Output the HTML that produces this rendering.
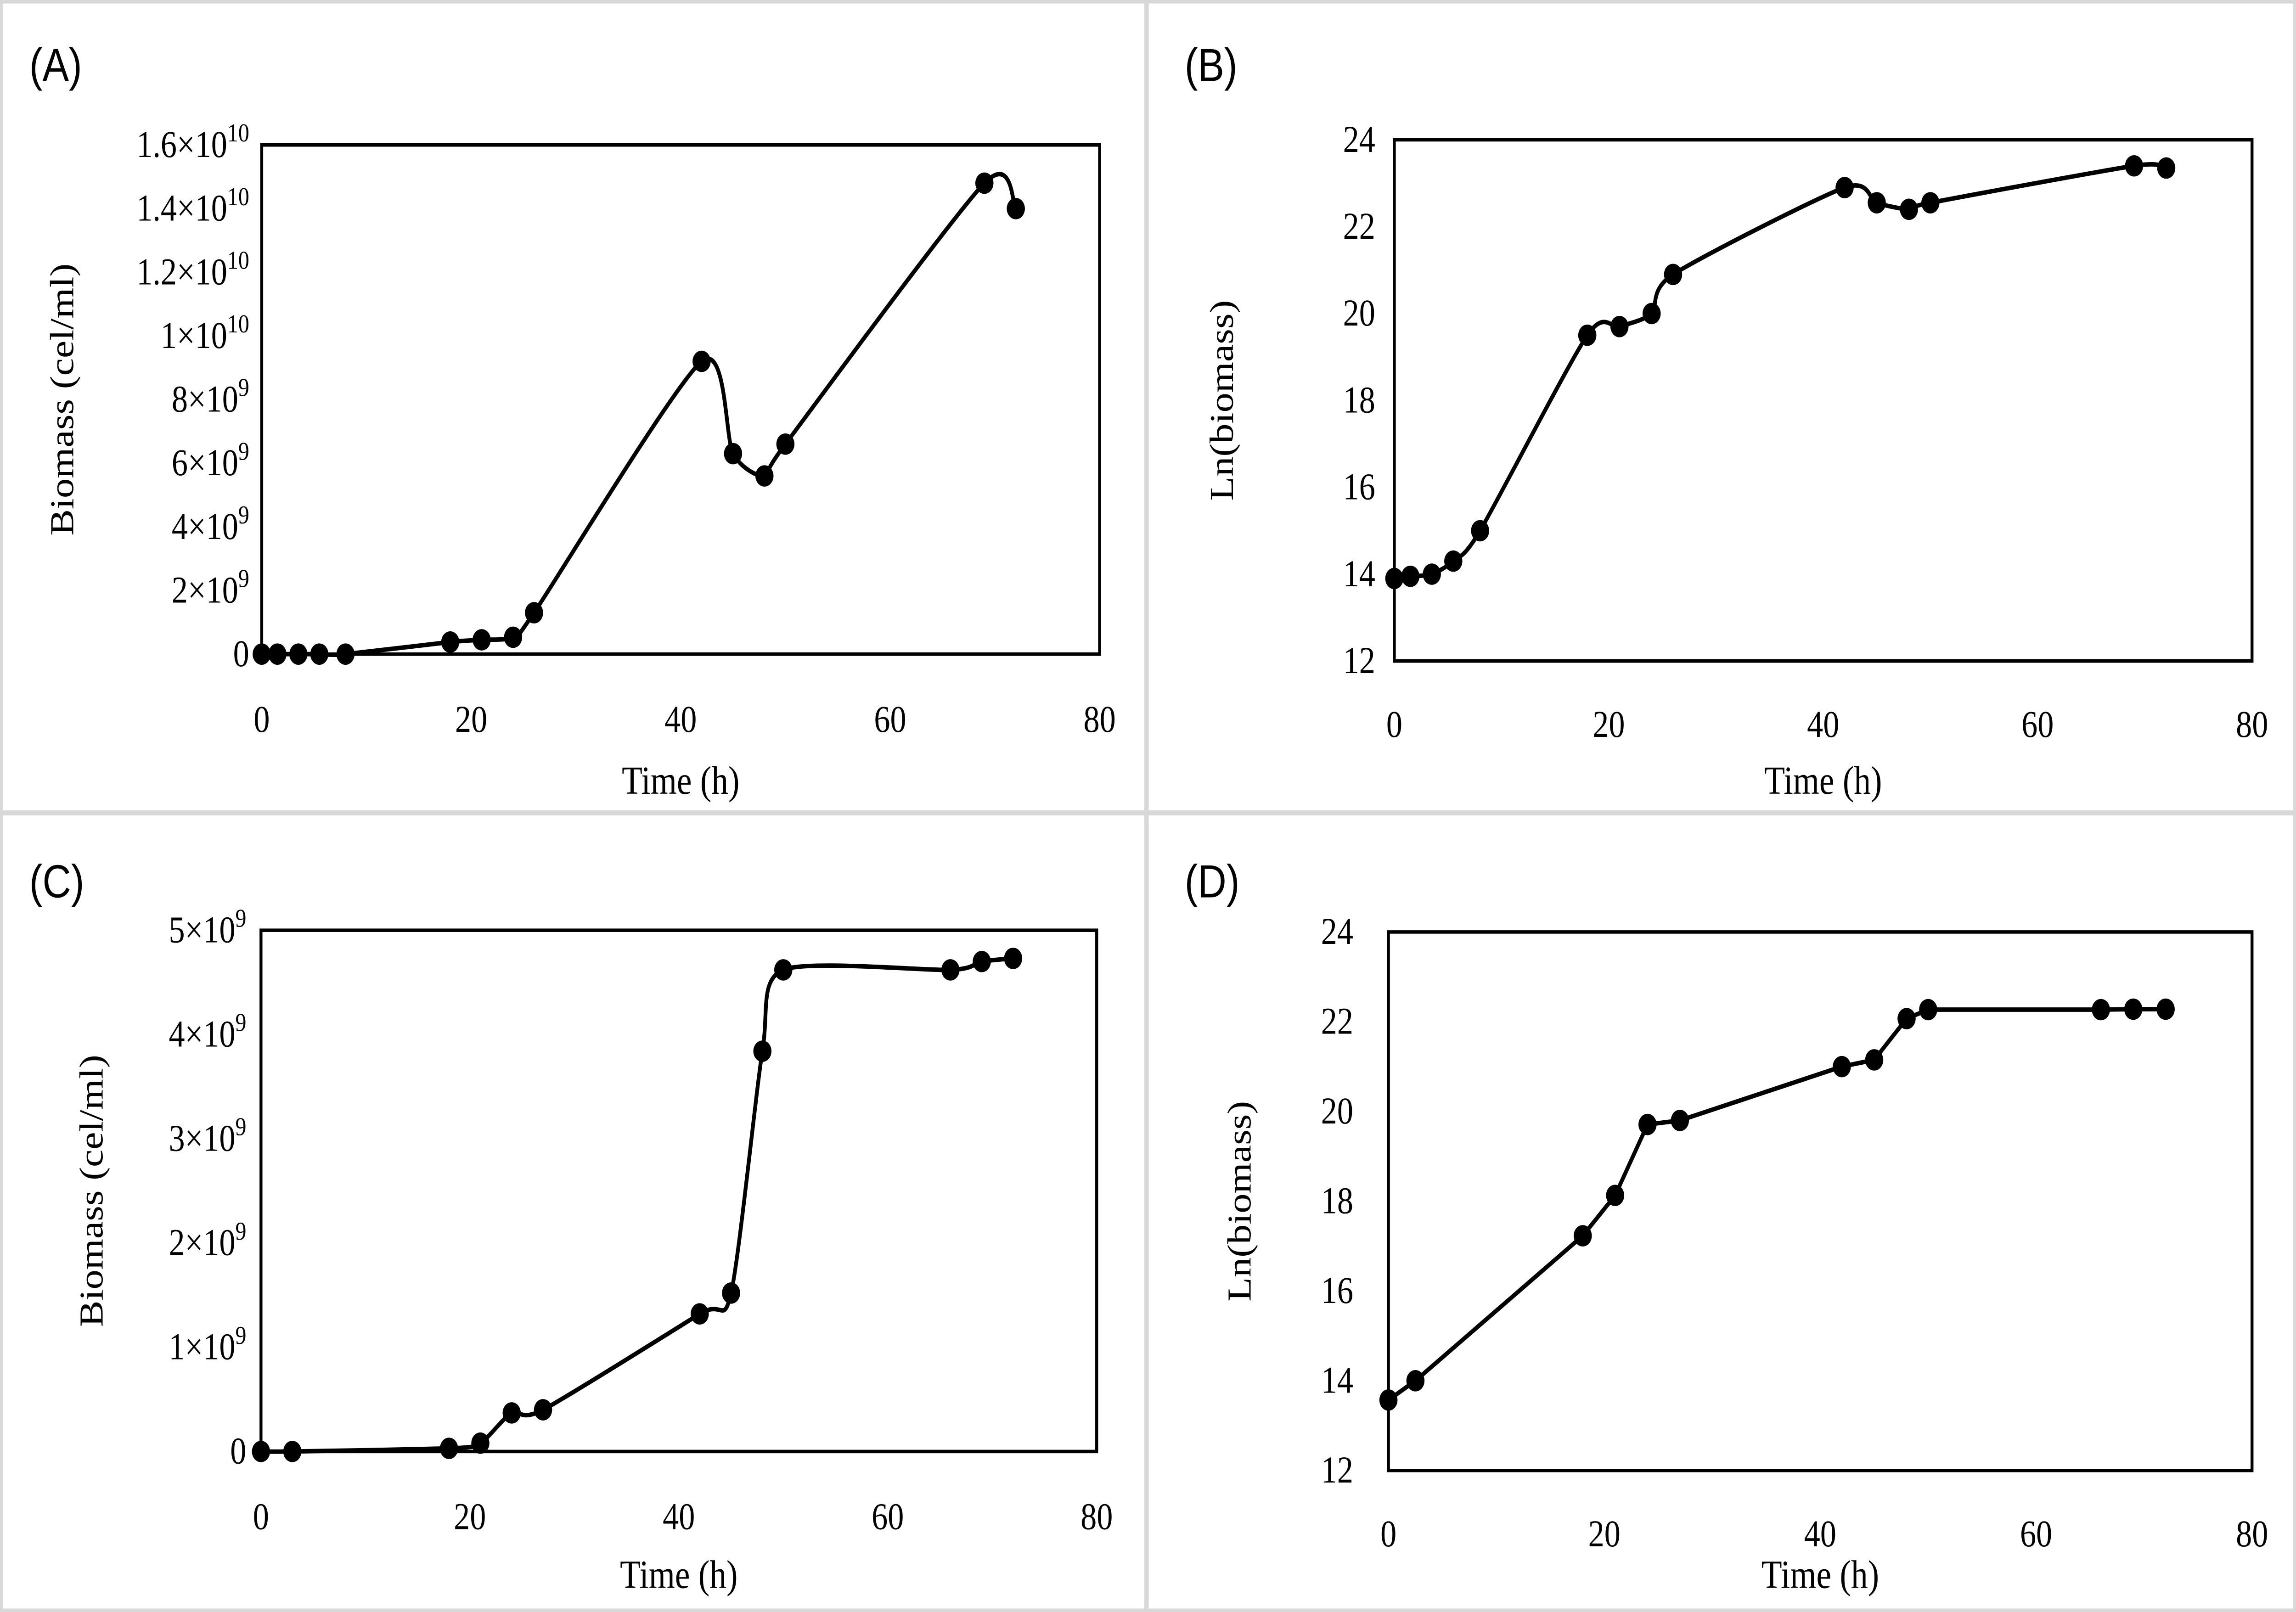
<!DOCTYPE html>
<html><head><meta charset="utf-8"><style>
html,body{margin:0;padding:0;background:#fff;width:100vw;height:100vh;overflow:hidden;}
svg{display:block;width:100vw;height:100vh;}
.tk{font-family:"Liberation Serif",serif;font-size:22px;fill:#000;}
.ti{font-family:"Liberation Serif",serif;font-size:23px;fill:#000;}
.pl{font-family:"Liberation Sans",sans-serif;font-size:27px;fill:#000;}
</style></head><body>
<svg id="fig" viewBox="0 0 1566 934" preserveAspectRatio="none" xmlns="http://www.w3.org/2000/svg">
<g id="root">
<rect x="1" y="1" width="1564" height="932" fill="#fff" stroke="#d8d8d8" stroke-width="2"/>
<line x1="782" y1="0" x2="782" y2="934" stroke="#d8d8d8" stroke-width="3"/>
<line x1="0" y1="471" x2="1566" y2="471" stroke="#d8d8d8" stroke-width="3"/>
</g>
</svg>
<script>
const xTicks=[0,20,40,60,80];
const tA=[0,1.5,3.5,5.5,8,18,21,24,26,42,45,48,50,69,72];
const vA=[0,0,0,0,0,0.38,0.45,0.53,1.3,9.2,6.3,5.6,6.6,14.8,14.0];
const yTicksA=[0,2,4,6,8,10,12,14,16];
const tB=[0,1.5,3.5,5.5,8,18,21,24,26,42,45,48,50,69,72];
const vB=[13.9,13.95,14.0,14.3,15.0,19.5,19.7,20.0,20.9,22.9,22.55,22.4,22.55,23.4,23.35];
const yTicksB=[12,14,16,18,20,22,24];
const tC=[0,3,18,21,24,27,42,45,48,50,66,69,72];
const vC=[0,0,0.03,0.08,0.37,0.4,1.32,1.52,3.84,4.62,4.62,4.7,4.73];
const yTicksC=[0,1,2,3,4,5];
const tD=[0,2.5,18,21,24,27,42,45,48,50,66,69,72];
const vD=[13.57,14.0,17.23,18.13,19.71,19.8,21.0,21.15,22.07,22.27,22.27,22.28,22.28];
const yTicksD=[12,14,16,18,20,22,24];

const NS="http://www.w3.org/2000/svg";
const root=document.getElementById('root');
function mk(tag,attrs,parent){const e=document.createElementNS(NS,tag);for(const k in attrs)e.setAttribute(k,attrs[k]);(parent||root).appendChild(e);return e;}

function panel(cfg){
  const g=mk('g',{});
  
  
  const sx=v=>cfg.x0+(v-0)/(80)*(cfg.x1-cfg.x0);
  const sy=v=>cfg.y1-(v-cfg.ymin)/(cfg.ymax-cfg.ymin)*(cfg.y1-cfg.y0);
  const lab=mk('text',{x:cfg.lx,y:cfg.ly,class:'pl'},g);lab.textContent='('+cfg.id.toUpperCase()+')';
  
  
  const box=mk('rect',{x:cfg.x0,y:cfg.y0,width:cfg.x1-cfg.x0,height:cfg.y1-cfg.y0,fill:'none',stroke:'#000','stroke-width':2},g);
  
  
  xTicks.forEach(v=>{const t=mk('text',{x:sx(v),y:cfg.xty,class:'tk','text-anchor':'middle'},g);t.textContent=v;
    
    });
  cfg.yt.forEach(v=>{const t=mk('text',{x:cfg.ytx,y:sy(v)+7,class:'tk','text-anchor':'end'},g);
    
    
    if(cfg.sci&&v!==0){
      let m,e;
      if(cfg.sci==='A'){ if(v>=10){m=(v/10).toString();e='10';} else {m=v.toString();e='9';} }
      else {m=v.toString();e='9';}
      t.appendChild(document.createTextNode(m+'×10'));
      const s=mk('tspan',{dy:-9,'font-size':15},t);s.textContent=e;
    } else t.textContent=v;});
  const xt=mk('text',{x:(cfg.x0+cfg.x1)/2,y:cfg.xtitle,class:'ti','text-anchor':'middle'},g);xt.textContent='Time (h)';
  
  
  const yy=(cfg.y0+cfg.y1)/2;
  const yt=mk('text',{x:cfg.ytitle,y:yy,class:'ti','text-anchor':'middle',transform:`rotate(-90 ${cfg.ytitle} ${yy})`},g);yt.textContent=cfg.ylab;
  
  
  const P=cfg.t.map((t,i)=>[sx(t),sy(cfg.v[i])]);
  let d='M'+P[0][0]+','+P[0][1];
  for(let i=0;i<P.length-1;i++){
    if(!cfg.smooth){d+=' L'+P[i+1][0]+','+P[i+1][1];continue;}
    const p0=P[Math.max(0,i-1)],p1=P[i],p2=P[i+1],p3=P[Math.min(P.length-1,i+2)];
    const k=1/8;
    d+=` C${p1[0]+(p2[0]-p0[0])*k},${p1[1]+(p2[1]-p0[1])*k} ${p2[0]-(p3[0]-p1[0])*k},${p2[1]-(p3[1]-p1[1])*k} ${p2[0]},${p2[1]}`;
  }
  const ln=mk('path',{d:d,fill:'none',stroke:'#000','stroke-width':2.6,'stroke-linejoin':'round'},g);
  
  
  P.forEach(p=>{const c=mk('circle',{cx:p[0],cy:p[1],r:6.2,fill:'#000'},g);
    
    });
}
panel({id:'a',x0:178.5,x1:750,y0:84,y1:379,ymin:0,ymax:16,t:tA,v:vA,yt:yTicksA,sci:'A',smooth:true,
  lx:20,ly:47,xty:424,xtitle:460,ytx:170,ytitle:50,ylab:'Biomass (cel/ml)'});
panel({id:'b',x0:951,x1:1536,y0:81,y1:383,ymin:12,ymax:24,t:tB,v:vB,yt:yTicksB,smooth:true,
  lx:808,ly:47,xty:427,xtitle:460,ytx:938,ytitle:841,ylab:'Ln(biomass)'});
panel({id:'c',x0:178,x1:748,y0:539,y1:841,ymin:0,ymax:5,t:tC,v:vC,yt:yTicksC,sci:'C',smooth:true,
  lx:20,ly:520,xty:886,xtitle:920,ytx:168,ytitle:70,ylab:'Biomass (cel/ml)'});
panel({id:'d',x0:947,x1:1536,y0:540,y1:852,ymin:12,ymax:24,t:tD,v:vD,yt:yTicksD,smooth:false,
  lx:808,ly:520,xty:896,xtitle:920,ytx:923,ytitle:853,ylab:'Ln(biomass)'});
</script>
</body></html>
